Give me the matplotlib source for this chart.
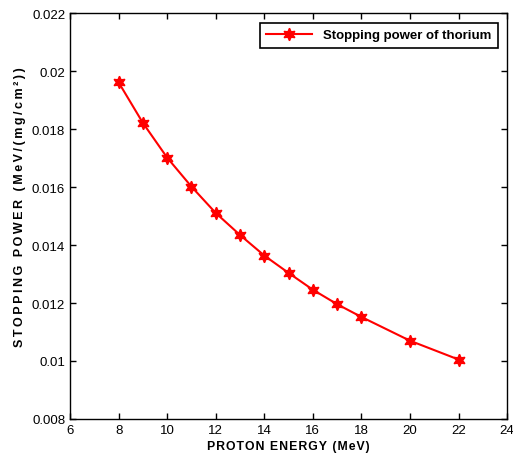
import matplotlib
matplotlib.use("Agg")
import matplotlib.pyplot as plt
from matplotlib.ticker import FuncFormatter

plt.rcParams['font.family'] = ['Liberation Sans', 'DejaVu Sans']

# data
energy = [8, 9, 10, 11, 12, 13, 14, 15, 16, 17, 18, 20, 22]
stopping = [0.01962, 0.01822, 0.01702, 0.01602, 0.01511, 0.01435, 0.01364,
            0.01304, 0.01246, 0.01196, 0.01152, 0.0107, 0.01005]
xticks = [6, 8, 10, 12, 14, 16, 18, 20, 22, 24]
yticks = [0.008, 0.01, 0.012, 0.014, 0.016, 0.018, 0.02, 0.022]


def spaced(s, sep):
    # MATLAB export draws the axis labels with a bit of letter spacing
    return sep.join(s)


fig = plt.figure(figsize=(5.13, 4.64), dpi=100)
ax = fig.add_axes([0.1365, 0.095, 0.852, 0.874])

ax.plot(energy, stopping, color='red', lw=1.5, marker=(6, 1, 0), markersize=9,
        label='Stopping power of thorium')

ax.set_xlim(6, 24)
ax.set_ylim(0.008, 0.022)
ax.set_xticks(xticks)
ax.set_yticks(yticks)
ax.yaxis.set_major_formatter(FuncFormatter(lambda v, p: '%g' % v))
ax.tick_params(direction='in', top=True, right=True, labelsize=9.5, length=4, width=1)
for s in ax.spines.values():
    s.set_linewidth(1)

ax.set_xlabel(spaced('PROTON ENERGY (MeV)', '\u200a'), fontweight='bold', fontsize=8.8, labelpad=3)
ax.set_ylabel(spaced('STOPPING POWER (MeV/(mg/cm\u00b2))', '\u2009'), fontweight='bold',
              fontsize=9)
ax.yaxis.set_label_coords(-0.10, 0.525)

leg = ax.legend(loc='upper right', prop={'weight': 'bold', 'size': 9.5}, fancybox=False,
                framealpha=1, edgecolor='black', borderaxespad=0.7, handlelength=3.5,
                borderpad=0.5)
leg.get_frame().set_linewidth(1.2)

fig.savefig('out.png', dpi=100)
